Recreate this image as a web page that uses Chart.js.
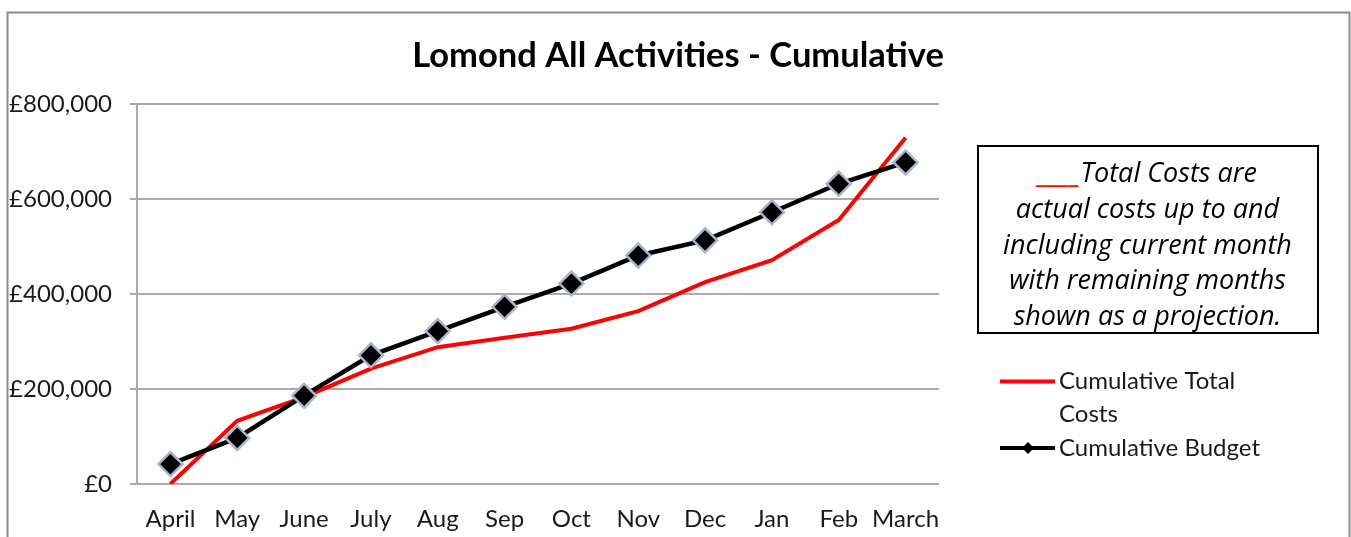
<!DOCTYPE html>
<html>
<head>
<meta charset="utf-8">
<script src="https://cdn.jsdelivr.net/npm/chart.js@4/dist/chart.umd.min.js"></script>
<style>
html,body{margin:0;padding:0;background:#fff;}
#wrap{width:1351px;height:537px;position:relative;}
</style>
</head>
<body>
<div id="wrap"><canvas id="c"></canvas></div>
<script>
const categories = ['April','May','June','July','Aug','Sep','Oct','Nov','Dec','Jan','Feb','March'];
const cumulativeTotalCosts = [0,133000,183000,243000,288000,308000,327000,364000,425000,471000,556000,729000];
const cumulativeBudget = [42000,97000,186000,271000,322000,373000,422000,481000,513000,572000,632000,677000];
const yTickValues = [0,200000,400000,600000,800000];
const titleText = 'Lomond All Activities - Cumulative';
const noteLines = ['Total Costs are','actual costs up to and','including current month','with remaining months','shown as a projection.'];

const FONT = 'Lato, "Open Sans", sans-serif';
const NOTE_FONT = '"Open Sans", Lato, sans-serif';

const decorPlugin = {
  id: 'decor',
  afterDraw(chart) {
    const ctx = chart.ctx;
    ctx.save();
    // outer border
    ctx.strokeStyle = '#8c8c8c';
    ctx.lineWidth = 2;
    ctx.strokeRect(7.5, 12.5, 1342, 700);

    // title
    ctx.fillStyle = '#000';
    ctx.font = 'bold 34.5px ' + FONT;
    ctx.textAlign = 'center';
    ctx.textBaseline = 'alphabetic';
    ctx.fillText(titleText, 678, 67);

    // note box
    ctx.strokeStyle = '#000';
    ctx.lineWidth = 2;
    ctx.strokeRect(978, 146, 340, 187);
    ctx.font = 'italic 27px ' + NOTE_FONT;
    const cx = 1147.5;
    const baselines = [182, 218, 254, 289, 325];
    const us = '____';
    const wUs = ctx.measureText(us).width;
    const wT = ctx.measureText(noteLines[0]).width;
    let sx = cx - (wUs + wT) / 2;
    ctx.textAlign = 'left';
    ctx.fillStyle = '#ff0000';
    ctx.fillText(us, sx, baselines[0] + 1);
    ctx.fillStyle = '#000';
    ctx.fillText(noteLines[0], sx + wUs, baselines[0]);
    ctx.textAlign = 'center';
    for (let i = 1; i < noteLines.length; i++) {
      ctx.fillText(noteLines[i], cx, baselines[i]);
    }

    // legend
    const ds = chart.data.datasets;
    ctx.lineCap = 'butt';
    ctx.strokeStyle = ds[0].borderColor;
    ctx.lineWidth = 4;
    ctx.beginPath(); ctx.moveTo(1000, 381.5); ctx.lineTo(1055, 381.5); ctx.stroke();
    ctx.font = '24px ' + FONT;
    ctx.textAlign = 'left';
    ctx.fillStyle = '#1a1a1a';
    const words = ds[0].label.split(' ');
    ctx.fillText(words.slice(0, 2).join(' '), 1059, 389);
    ctx.fillText(words.slice(2).join(' '), 1059, 422);
    ctx.strokeStyle = ds[1].borderColor;
    ctx.lineWidth = 4;
    ctx.beginPath(); ctx.moveTo(1000, 448); ctx.lineTo(1055, 448); ctx.stroke();
    ctx.fillStyle = '#000';
    ctx.beginPath();
    ctx.moveTo(1028, 442); ctx.lineTo(1034, 448); ctx.lineTo(1028, 454); ctx.lineTo(1022, 448); ctx.closePath();
    ctx.fill();
    ctx.fillStyle = '#1a1a1a';
    ctx.fillText(ds[1].label, 1059, 456);
    ctx.restore();
  }
};

new Chart(document.getElementById('c'), {
  type: 'line',
  data: {
    labels: categories,
    datasets: [
      {
        label: 'Cumulative Total Costs',
        data: cumulativeTotalCosts,
        borderColor: '#ff0000',
        borderWidth: 4,
        pointRadius: 0,
        tension: 0,
        order: 2
      },
      {
        label: 'Cumulative Budget',
        data: cumulativeBudget,
        borderColor: '#000000',
        borderWidth: 4.5,
        pointStyle: 'rectRot',
        pointRadius: 12,
        pointBackgroundColor: '#000000',
        pointBorderColor: '#a9b6ca',
        pointBorderWidth: 2.5,
        tension: 0,
        order: 1
      }
    ]
  },
  options: {
    responsive: true,
    maintainAspectRatio: false,
    animation: false,
    layout: { padding: { left: 7, right: 412, top: 104, bottom: 0 } },
    plugins: {
      legend: { display: false },
      tooltip: { enabled: false },
      title: { display: false }
    },
    scales: {
      x: {
        offset: true,
        grid: { display: false },
        border: { display: false },
        ticks: {
          color: '#1a1a1a',
          font: { family: FONT, size: 24, lineHeight: 1.2 },
          padding: 13,
          autoSkip: false,
          maxRotation: 0
        },
        afterFit(scale) { scale.height = 53; }
      },
      y: {
        min: 0,
        max: 800000,
        afterBuildTicks(scale) { scale.ticks = yTickValues.map(v => ({ value: v })); },
        grid: { color: '#ababab', lineWidth: 2, tickLength: 7, drawTicks: true },
        border: { display: true, color: '#ababab', width: 2 },
        ticks: {
          color: '#1a1a1a',
          font: { family: FONT, size: 24, lineHeight: 1.2 },
          padding: 18,
          callback: v => '£' + Number(v).toLocaleString('en-GB')
        },
        afterFit(scale) { scale.width = 130; }
      }
    }
  },
  plugins: [decorPlugin]
});
</script>
</body>
</html>
